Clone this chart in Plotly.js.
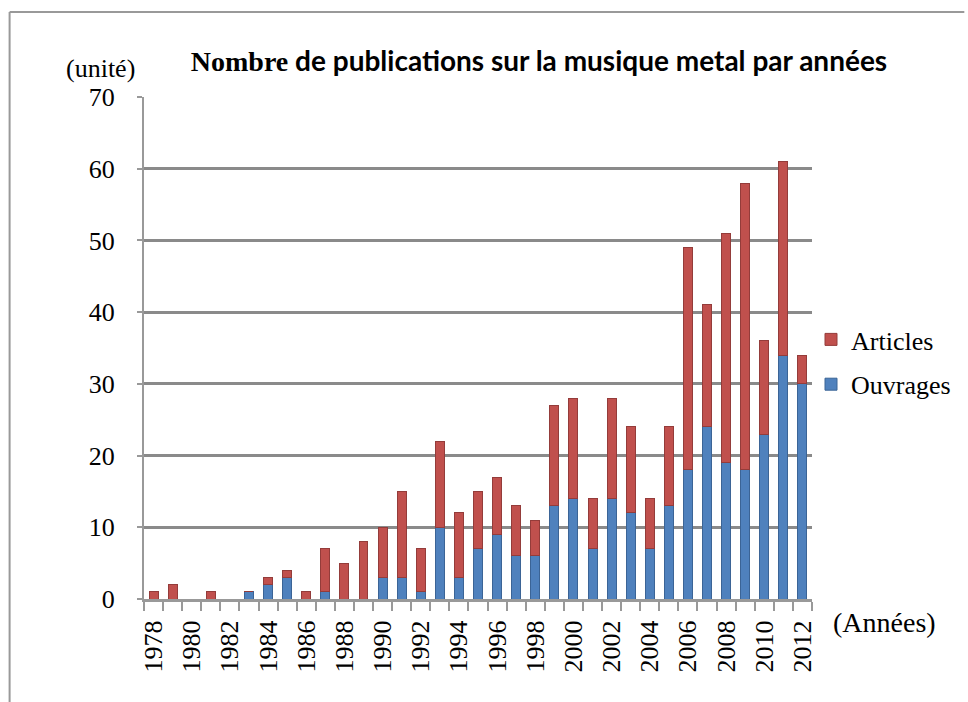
<!DOCTYPE html>
<html>
<head>
<meta charset="utf-8">
<script src="https://cdn.plot.ly/plotly-3.0.1.min.js"></script>
<style>
  html, body { margin: 0; padding: 0; background: #fff; }
  #chart { width: 968px; height: 702px; }
</style>
</head>
<body>
<div id="chart"></div>
<script>
// Data
const years = [1978,1979,1980,1981,1982,1983,1984,1985,1986,1987,1988,1989,1990,1991,1992,1993,1994,1995,1996,1997,1998,1999,2000,2001,2002,2003,2004,2005,2006,2007,2008,2009,2010,2011,2012];
const ouvrages = [0,0,0,0,0,1,2,3,0,1,0,0,3,3,1,10,3,7,9,6,6,13,14,7,14,12,7,13,18,24,19,18,23,34,30];
const articles = [1,2,0,1,0,0,1,1,1,6,5,8,7,12,6,12,9,8,8,7,5,14,14,7,14,12,7,11,31,17,32,40,13,27,4];
const yTicks = [0,10,20,30,40,50,60,70];

const W = 968, H = 702;
const L = 144, R = 815, T = 97, B = 599;
const serif = '"Liberation Serif", "Times New Roman", serif';

const px2x = p => (p - L) / (R - L);
const py2y = p => (B - p) / (B - T);

const traces = [
  {
    type: 'bar', name: 'Ouvrages', x: years, y: ouvrages,
    width: 0.47,
    marker: { color: '#4F81BD', line: { color: '#3B6496', width: 1 } },
    legendgroup: 'o', legendrank: 2
  },
  {
    type: 'bar', name: 'Articles', x: years, y: articles,
    width: 0.47,
    marker: { color: '#C0504D', line: { color: '#943C3A', width: 1 } },
    legendgroup: 'a', legendrank: 1
  }
];

const layout = {
  width: W, height: H,
  paper_bgcolor: '#fff', plot_bgcolor: '#fff',
  margin: { l: L, r: W - R, t: T, b: H - B, pad: 0 },
  barmode: 'stack',
  bargap: 0,
  showlegend: true,
  legend: {
    x: px2x(814), xanchor: 'left', y: py2y(316), yanchor: 'top',
    traceorder: 'grouped', tracegroupgap: 8,
    font: { family: serif, size: 26, color: '#000' },
    bgcolor: 'rgba(0,0,0,0)'
  },
  title: {
    text: '<span style="font-family:Liberation Serif">Nombre</span> de publications sur la musique metal par années',
    font: { family: 'Lato, "Open Sans", sans-serif', size: 28, color: '#000', weight: 'bold' },
    x: 539 / W, xref: 'container', xanchor: 'center',
    y: 1 - 61 / H, yref: 'container', yanchor: 'middle'
  },
  xaxis: {
    type: 'linear',
    range: [1977.5, 2012.5],
    tick0: 1978, dtick: 2,
    ticks: '', tickangle: -90,
    tickfont: { family: serif, size: 26, color: '#000' },
    ticklabelstandoff: 8,
    showgrid: false, zeroline: false,
    showline: true, linecolor: '#999', linewidth: 3,
    minor: { tick0: 1977.5, dtick: 1, ticks: 'outside', ticklen: 9, tickwidth: 2, tickcolor: '#999', showgrid: false },
    fixedrange: true
  },
  yaxis: {
    range: [0, 70],
    tickvals: yTicks,
    ticktext: yTicks.map(String),
    ticks: 'outside', ticklen: 5, tickwidth: 2, tickcolor: '#999',
    tickfont: { family: serif, size: 26, color: '#000' },
    ticklabelstandoff: 17,
    showgrid: true, gridcolor: '#8a8a8a', gridwidth: 3,
    zeroline: false,
    showline: true, linecolor: '#999', linewidth: 2,
    fixedrange: true
  },
  annotations: [
    { text: '(unité)', xref: 'paper', yref: 'paper', x: px2x(100), y: py2y(68),
      xanchor: 'center', yanchor: 'middle', showarrow: false,
      font: { family: serif, size: 26, color: '#000' } },
    { text: '(Années)', xref: 'paper', yref: 'paper', x: px2x(888), y: py2y(622),
      xanchor: 'center', yanchor: 'middle', showarrow: false,
      font: { family: serif, size: 28, color: '#000' } }
  ],
  shapes: [
    { type: 'line', xref: 'paper', yref: 'paper', x0: px2x(9), y0: py2y(12), x1: px2x(968), y1: py2y(12),
      line: { color: '#999', width: 2 } },
    { type: 'line', xref: 'paper', yref: 'paper', x0: px2x(9), y0: py2y(12), x1: px2x(9), y1: py2y(702),
      line: { color: '#999', width: 2 } }
  ]
};

Plotly.newPlot('chart', traces, layout, { displayModeBar: false, staticPlot: true });
</script>
</body>
</html>
